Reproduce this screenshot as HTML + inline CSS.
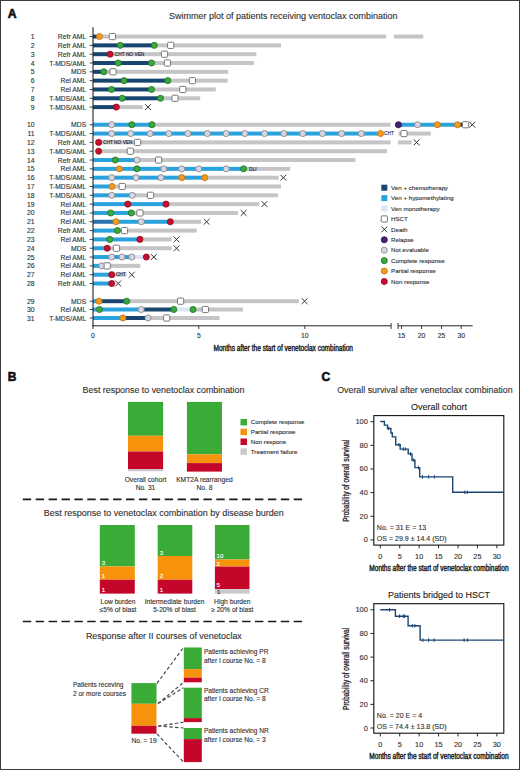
<!DOCTYPE html><html><head><meta charset="utf-8"><style>html,body{margin:0;padding:0;background:#fff;}svg{display:block;}text{font-family:"Liberation Sans",sans-serif;}</style></head><body>
<svg width="520" height="770" viewBox="0 0 520 770">
<rect x="0" y="0" width="520" height="770" fill="#fff"/>
<text x="7.7" y="18.4" font-size="12.2" font-weight="bold" fill="#111" stroke="#111" stroke-width="0.6">A</text>
<text x="7.8" y="381.3" font-size="12" font-weight="bold" fill="#111" stroke="#111" stroke-width="0.6">B</text>
<text x="321.6" y="381.3" font-size="12" font-weight="bold" fill="#111" stroke="#111" stroke-width="0.6">C</text>
<text x="169" y="18.6" font-size="9" fill="#313131" stroke="#313131" stroke-width="0.12">Swimmer plot of patients receiving ventoclax combination</text>
<text x="34.6" y="39.05" font-size="6.8" fill="#313131" text-anchor="end" stroke="#313131" stroke-width="0.12">1</text>
<text x="86.2" y="39.05" font-size="6.8" fill="#313131" text-anchor="end" stroke="#313131" stroke-width="0.12">Refr AML</text>
<line x1="89.6" y1="36.55" x2="93" y2="36.55" stroke="#333" stroke-width="0.9"/>
<rect x="93.00" y="34.55" width="6.50" height="4" fill="#17456f"/>
<rect x="99.50" y="34.55" width="286.70" height="4" fill="#c5c5c7"/>
<rect x="394.00" y="34.55" width="29.20" height="4" fill="#c5c5c7"/>
<text x="34.6" y="47.87" font-size="6.8" fill="#313131" text-anchor="end" stroke="#313131" stroke-width="0.12">2</text>
<text x="86.2" y="47.87" font-size="6.8" fill="#313131" text-anchor="end" stroke="#313131" stroke-width="0.12">Refr AML</text>
<line x1="89.6" y1="45.37" x2="93" y2="45.37" stroke="#333" stroke-width="0.9"/>
<rect x="93.00" y="43.37" width="61.30" height="4" fill="#17456f"/>
<rect x="154.30" y="43.37" width="126.70" height="4" fill="#c5c5c7"/>
<text x="34.6" y="56.69" font-size="6.8" fill="#313131" text-anchor="end" stroke="#313131" stroke-width="0.12">3</text>
<text x="86.2" y="56.69" font-size="6.8" fill="#313131" text-anchor="end" stroke="#313131" stroke-width="0.12">Refr AML</text>
<line x1="89.6" y1="54.19" x2="93" y2="54.19" stroke="#333" stroke-width="0.9"/>
<rect x="93.00" y="52.19" width="17.10" height="4" fill="#17456f"/>
<rect x="110.10" y="52.19" width="146.30" height="4" fill="#c5c5c7"/>
<text x="34.6" y="65.51" font-size="6.8" fill="#313131" text-anchor="end" stroke="#313131" stroke-width="0.12">4</text>
<text x="86.2" y="65.51" font-size="6.8" fill="#313131" text-anchor="end" stroke="#313131" stroke-width="0.12">T-MDS/AML</text>
<line x1="89.6" y1="63.01" x2="93" y2="63.01" stroke="#333" stroke-width="0.9"/>
<rect x="93.00" y="61.01" width="58.50" height="4" fill="#17456f"/>
<rect x="151.50" y="61.01" width="102.50" height="4" fill="#c5c5c7"/>
<text x="34.6" y="74.33" font-size="6.8" fill="#313131" text-anchor="end" stroke="#313131" stroke-width="0.12">5</text>
<text x="86.2" y="74.33" font-size="6.8" fill="#313131" text-anchor="end" stroke="#313131" stroke-width="0.12">MDS</text>
<line x1="89.6" y1="71.83" x2="93" y2="71.83" stroke="#333" stroke-width="0.9"/>
<rect x="93.00" y="69.83" width="10.80" height="4" fill="#17456f"/>
<rect x="103.80" y="69.83" width="124.40" height="4" fill="#c5c5c7"/>
<text x="34.6" y="83.15" font-size="6.8" fill="#313131" text-anchor="end" stroke="#313131" stroke-width="0.12">6</text>
<text x="86.2" y="83.15" font-size="6.8" fill="#313131" text-anchor="end" stroke="#313131" stroke-width="0.12">Rel AML</text>
<line x1="89.6" y1="80.65" x2="93" y2="80.65" stroke="#333" stroke-width="0.9"/>
<rect x="93.00" y="78.65" width="74.80" height="4" fill="#17456f"/>
<rect x="167.80" y="78.65" width="59.80" height="4" fill="#c5c5c7"/>
<text x="34.6" y="91.97" font-size="6.8" fill="#313131" text-anchor="end" stroke="#313131" stroke-width="0.12">7</text>
<text x="86.2" y="91.97" font-size="6.8" fill="#313131" text-anchor="end" stroke="#313131" stroke-width="0.12">Rel AML</text>
<line x1="89.6" y1="89.47" x2="93" y2="89.47" stroke="#333" stroke-width="0.9"/>
<rect x="93.00" y="87.47" width="58.50" height="4" fill="#17456f"/>
<rect x="151.50" y="87.47" width="64.30" height="4" fill="#c5c5c7"/>
<text x="34.6" y="100.79" font-size="6.8" fill="#313131" text-anchor="end" stroke="#313131" stroke-width="0.12">8</text>
<text x="86.2" y="100.79" font-size="6.8" fill="#313131" text-anchor="end" stroke="#313131" stroke-width="0.12">T-MDS/AML</text>
<line x1="89.6" y1="98.29" x2="93" y2="98.29" stroke="#333" stroke-width="0.9"/>
<rect x="93.00" y="96.29" width="67.50" height="4" fill="#17456f"/>
<rect x="160.50" y="96.29" width="39.70" height="4" fill="#c5c5c7"/>
<text x="34.6" y="109.61" font-size="6.8" fill="#313131" text-anchor="end" stroke="#313131" stroke-width="0.12">9</text>
<text x="86.2" y="109.61" font-size="6.8" fill="#313131" text-anchor="end" stroke="#313131" stroke-width="0.12">T-MDS/AML</text>
<line x1="89.6" y1="107.11" x2="93" y2="107.11" stroke="#333" stroke-width="0.9"/>
<rect x="93.00" y="105.11" width="23.30" height="4" fill="#17456f"/>
<rect x="116.30" y="105.11" width="26.50" height="4" fill="#c5c5c7"/>
<text x="34.6" y="127.25" font-size="6.8" fill="#313131" text-anchor="end" stroke="#313131" stroke-width="0.12">10</text>
<text x="86.2" y="127.25" font-size="6.8" fill="#313131" text-anchor="end" stroke="#313131" stroke-width="0.12">MDS</text>
<line x1="89.6" y1="124.75" x2="93" y2="124.75" stroke="#333" stroke-width="0.9"/>
<rect x="93.00" y="122.75" width="59.00" height="4" fill="#29a2dd"/>
<rect x="152.00" y="122.75" width="238.60" height="4" fill="#c5c5c7"/>
<rect x="398.40" y="122.75" width="59.10" height="4" fill="#29a2dd"/>
<rect x="457.50" y="122.75" width="5.50" height="4" fill="#17456f"/>
<text x="34.6" y="136.07" font-size="6.8" fill="#313131" text-anchor="end" stroke="#313131" stroke-width="0.12">11</text>
<text x="86.2" y="136.07" font-size="6.8" fill="#313131" text-anchor="end" stroke="#313131" stroke-width="0.12">T-MDS/AML</text>
<line x1="89.6" y1="133.57" x2="93" y2="133.57" stroke="#333" stroke-width="0.9"/>
<rect x="93.00" y="131.57" width="287.60" height="4" fill="#29a2dd"/>
<rect x="398.60" y="131.57" width="32.20" height="4" fill="#c5c5c7"/>
<text x="34.6" y="144.89" font-size="6.8" fill="#313131" text-anchor="end" stroke="#313131" stroke-width="0.12">12</text>
<text x="86.2" y="144.89" font-size="6.8" fill="#313131" text-anchor="end" stroke="#313131" stroke-width="0.12">Refr AML</text>
<line x1="89.6" y1="142.39" x2="93" y2="142.39" stroke="#333" stroke-width="0.9"/>
<rect x="98.60" y="140.39" width="292.00" height="4" fill="#c5c5c7"/>
<rect x="398.00" y="140.39" width="13.50" height="4" fill="#c5c5c7"/>
<text x="34.6" y="153.71" font-size="6.8" fill="#313131" text-anchor="end" stroke="#313131" stroke-width="0.12">13</text>
<text x="86.2" y="153.71" font-size="6.8" fill="#313131" text-anchor="end" stroke="#313131" stroke-width="0.12">T-MDS/AML</text>
<line x1="89.6" y1="151.21" x2="93" y2="151.21" stroke="#333" stroke-width="0.9"/>
<rect x="98.60" y="149.21" width="288.40" height="4" fill="#c5c5c7"/>
<text x="34.6" y="162.53" font-size="6.8" fill="#313131" text-anchor="end" stroke="#313131" stroke-width="0.12">14</text>
<text x="86.2" y="162.53" font-size="6.8" fill="#313131" text-anchor="end" stroke="#313131" stroke-width="0.12">Refr AML</text>
<line x1="89.6" y1="160.03" x2="93" y2="160.03" stroke="#333" stroke-width="0.9"/>
<rect x="93.00" y="158.03" width="44.00" height="4" fill="#29a2dd"/>
<rect x="137.00" y="158.03" width="218.40" height="4" fill="#c5c5c7"/>
<text x="34.6" y="171.35" font-size="6.8" fill="#313131" text-anchor="end" stroke="#313131" stroke-width="0.12">15</text>
<text x="86.2" y="171.35" font-size="6.8" fill="#313131" text-anchor="end" stroke="#313131" stroke-width="0.12">Rel AML</text>
<line x1="89.6" y1="168.85" x2="93" y2="168.85" stroke="#333" stroke-width="0.9"/>
<rect x="93.00" y="166.85" width="150.60" height="4" fill="#29a2dd"/>
<rect x="243.60" y="166.85" width="46.60" height="4" fill="#c5c5c7"/>
<text x="34.6" y="180.17" font-size="6.8" fill="#313131" text-anchor="end" stroke="#313131" stroke-width="0.12">16</text>
<text x="86.2" y="180.17" font-size="6.8" fill="#313131" text-anchor="end" stroke="#313131" stroke-width="0.12">T-MDS/AML</text>
<line x1="89.6" y1="177.67" x2="93" y2="177.67" stroke="#333" stroke-width="0.9"/>
<rect x="93.00" y="175.67" width="111.80" height="4" fill="#29a2dd"/>
<rect x="204.80" y="175.67" width="73.80" height="4" fill="#c5c5c7"/>
<text x="34.6" y="188.99" font-size="6.8" fill="#313131" text-anchor="end" stroke="#313131" stroke-width="0.12">17</text>
<text x="86.2" y="188.99" font-size="6.8" fill="#313131" text-anchor="end" stroke="#313131" stroke-width="0.12">T-MDS/AML</text>
<line x1="89.6" y1="186.49" x2="93" y2="186.49" stroke="#333" stroke-width="0.9"/>
<rect x="93.00" y="184.49" width="19.00" height="4" fill="#29a2dd"/>
<rect x="112.00" y="184.49" width="169.00" height="4" fill="#c5c5c7"/>
<text x="34.6" y="197.81" font-size="6.8" fill="#313131" text-anchor="end" stroke="#313131" stroke-width="0.12">18</text>
<text x="86.2" y="197.81" font-size="6.8" fill="#313131" text-anchor="end" stroke="#313131" stroke-width="0.12">T-MDS/AML</text>
<line x1="89.6" y1="195.31" x2="93" y2="195.31" stroke="#333" stroke-width="0.9"/>
<rect x="93.00" y="193.31" width="39.20" height="4" fill="#29a2dd"/>
<rect x="132.20" y="193.31" width="145.80" height="4" fill="#c5c5c7"/>
<text x="34.6" y="206.63" font-size="6.8" fill="#313131" text-anchor="end" stroke="#313131" stroke-width="0.12">19</text>
<text x="86.2" y="206.63" font-size="6.8" fill="#313131" text-anchor="end" stroke="#313131" stroke-width="0.12">Rel AML</text>
<line x1="89.6" y1="204.13" x2="93" y2="204.13" stroke="#333" stroke-width="0.9"/>
<rect x="93.00" y="202.13" width="73.00" height="4" fill="#29a2dd"/>
<rect x="166.00" y="202.13" width="93.30" height="4" fill="#c5c5c7"/>
<text x="34.6" y="215.45" font-size="6.8" fill="#313131" text-anchor="end" stroke="#313131" stroke-width="0.12">20</text>
<text x="86.2" y="215.45" font-size="6.8" fill="#313131" text-anchor="end" stroke="#313131" stroke-width="0.12">Rel AML</text>
<line x1="89.6" y1="212.95" x2="93" y2="212.95" stroke="#333" stroke-width="0.9"/>
<rect x="93.00" y="210.95" width="38.30" height="4" fill="#29a2dd"/>
<rect x="131.30" y="210.95" width="106.70" height="4" fill="#c5c5c7"/>
<text x="34.6" y="224.27" font-size="6.8" fill="#313131" text-anchor="end" stroke="#313131" stroke-width="0.12">21</text>
<text x="86.2" y="224.27" font-size="6.8" fill="#313131" text-anchor="end" stroke="#313131" stroke-width="0.12">Rel AML</text>
<line x1="89.6" y1="221.77" x2="93" y2="221.77" stroke="#333" stroke-width="0.9"/>
<rect x="93.00" y="219.77" width="22.90" height="4" fill="#2a73ad"/>
<rect x="115.90" y="219.77" width="54.40" height="4" fill="#29a2dd"/>
<rect x="170.30" y="219.77" width="30.70" height="4" fill="#c5c5c7"/>
<text x="34.6" y="233.09" font-size="6.8" fill="#313131" text-anchor="end" stroke="#313131" stroke-width="0.12">22</text>
<text x="86.2" y="233.09" font-size="6.8" fill="#313131" text-anchor="end" stroke="#313131" stroke-width="0.12">Refr AML</text>
<line x1="89.6" y1="230.59" x2="93" y2="230.59" stroke="#333" stroke-width="0.9"/>
<rect x="93.00" y="228.59" width="24.40" height="4" fill="#29a2dd"/>
<rect x="117.40" y="228.59" width="79.30" height="4" fill="#c5c5c7"/>
<text x="34.6" y="241.91" font-size="6.8" fill="#313131" text-anchor="end" stroke="#313131" stroke-width="0.12">23</text>
<text x="86.2" y="241.91" font-size="6.8" fill="#313131" text-anchor="end" stroke="#313131" stroke-width="0.12">Rel AML</text>
<line x1="89.6" y1="239.41" x2="93" y2="239.41" stroke="#333" stroke-width="0.9"/>
<rect x="93.00" y="237.41" width="46.90" height="4" fill="#29a2dd"/>
<rect x="139.90" y="237.41" width="31.80" height="4" fill="#c5c5c7"/>
<text x="34.6" y="250.73" font-size="6.8" fill="#313131" text-anchor="end" stroke="#313131" stroke-width="0.12">24</text>
<text x="86.2" y="250.73" font-size="6.8" fill="#313131" text-anchor="end" stroke="#313131" stroke-width="0.12">MDS</text>
<line x1="89.6" y1="248.23" x2="93" y2="248.23" stroke="#333" stroke-width="0.9"/>
<rect x="93.00" y="246.23" width="14.20" height="4" fill="#29a2dd"/>
<rect x="107.20" y="246.23" width="64.50" height="4" fill="#c5c5c7"/>
<text x="34.6" y="259.55" font-size="6.8" fill="#313131" text-anchor="end" stroke="#313131" stroke-width="0.12">25</text>
<text x="86.2" y="259.55" font-size="6.8" fill="#313131" text-anchor="end" stroke="#313131" stroke-width="0.12">Rel AML</text>
<line x1="89.6" y1="257.05" x2="93" y2="257.05" stroke="#333" stroke-width="0.9"/>
<rect x="93.00" y="255.05" width="38.80" height="4" fill="#29a2dd"/>
<rect x="131.80" y="255.05" width="14.50" height="4" fill="#dce5f7"/>
<text x="34.6" y="268.37" font-size="6.8" fill="#313131" text-anchor="end" stroke="#313131" stroke-width="0.12">26</text>
<text x="86.2" y="268.37" font-size="6.8" fill="#313131" text-anchor="end" stroke="#313131" stroke-width="0.12">Rel AML</text>
<line x1="89.6" y1="265.87" x2="93" y2="265.87" stroke="#333" stroke-width="0.9"/>
<rect x="93.00" y="263.87" width="8.80" height="4" fill="#29a2dd"/>
<rect x="101.80" y="263.87" width="38.50" height="4" fill="#c5c5c7"/>
<text x="34.6" y="277.19" font-size="6.8" fill="#313131" text-anchor="end" stroke="#313131" stroke-width="0.12">27</text>
<text x="86.2" y="277.19" font-size="6.8" fill="#313131" text-anchor="end" stroke="#313131" stroke-width="0.12">Rel AML</text>
<line x1="89.6" y1="274.69" x2="93" y2="274.69" stroke="#333" stroke-width="0.9"/>
<rect x="93.00" y="272.69" width="18.70" height="4" fill="#29a2dd"/>
<rect x="111.70" y="272.69" width="14.80" height="4" fill="#c5c5c7"/>
<text x="34.6" y="286.01" font-size="6.8" fill="#313131" text-anchor="end" stroke="#313131" stroke-width="0.12">28</text>
<text x="86.2" y="286.01" font-size="6.8" fill="#313131" text-anchor="end" stroke="#313131" stroke-width="0.12">Refr AML</text>
<line x1="89.6" y1="283.51" x2="93" y2="283.51" stroke="#333" stroke-width="0.9"/>
<rect x="93.00" y="281.51" width="18.70" height="4" fill="#29a2dd"/>
<text x="34.6" y="303.70" font-size="6.8" fill="#313131" text-anchor="end" stroke="#313131" stroke-width="0.12">29</text>
<text x="86.2" y="303.70" font-size="6.8" fill="#313131" text-anchor="end" stroke="#313131" stroke-width="0.12">MDS</text>
<line x1="89.6" y1="301.20" x2="93" y2="301.20" stroke="#333" stroke-width="0.9"/>
<rect x="93.00" y="299.20" width="6.00" height="4" fill="#29a2dd"/>
<rect x="99.00" y="299.20" width="27.70" height="4" fill="#17456f"/>
<rect x="126.70" y="299.20" width="172.10" height="4" fill="#c5c5c7"/>
<text x="34.6" y="312.00" font-size="6.8" fill="#313131" text-anchor="end" stroke="#313131" stroke-width="0.12">30</text>
<text x="86.2" y="312.00" font-size="6.8" fill="#313131" text-anchor="end" stroke="#313131" stroke-width="0.12">Rel AML</text>
<line x1="89.6" y1="309.50" x2="93" y2="309.50" stroke="#333" stroke-width="0.9"/>
<rect x="93.00" y="307.50" width="48.20" height="4" fill="#29a2dd"/>
<rect x="141.20" y="307.50" width="32.60" height="4" fill="#17456f"/>
<rect x="173.80" y="307.50" width="19.20" height="4" fill="#dce5f7"/>
<rect x="193.00" y="307.50" width="49.90" height="4" fill="#c5c5c7"/>
<text x="34.6" y="320.50" font-size="6.8" fill="#313131" text-anchor="end" stroke="#313131" stroke-width="0.12">31</text>
<text x="86.2" y="320.50" font-size="6.8" fill="#313131" text-anchor="end" stroke="#313131" stroke-width="0.12">T-MDS/AML</text>
<line x1="89.6" y1="318.00" x2="93" y2="318.00" stroke="#333" stroke-width="0.9"/>
<rect x="93.00" y="316.00" width="29.90" height="4" fill="#29a2dd"/>
<rect x="122.90" y="316.00" width="25.10" height="4" fill="#17456f"/>
<rect x="148.00" y="316.00" width="71.50" height="4" fill="#c5c5c7"/>
<text x="114.8" y="55.89" font-size="4.8" fill="#222244" stroke="#222244" stroke-width="0.12">CHT NO VEN</text>
<text x="103" y="144.09" font-size="4.8" fill="#222244" stroke="#222244" stroke-width="0.12">CHT NO VEN</text>
<text x="384" y="135.27" font-size="4.8" fill="#222244" stroke="#222244" stroke-width="0.12">CHT</text>
<text x="249" y="170.55" font-size="4.8" fill="#222244" stroke="#222244" stroke-width="0.12">DLI</text>
<text x="115.9" y="276.39" font-size="4.8" fill="#222244" stroke="#222244" stroke-width="0.12">CHT</text>
<circle cx="99.50" cy="36.55" r="3.05" fill="#f29b20" stroke="#c57412" stroke-width="0.85"/>
<rect x="109.30" y="33.45" width="6.2" height="6.2" rx="1" fill="#fff" stroke="#777" stroke-width="1"/>
<circle cx="120.30" cy="45.37" r="3.05" fill="#3aa93c" stroke="#1f762a" stroke-width="0.85"/>
<circle cx="154.30" cy="45.37" r="3.05" fill="#3aa93c" stroke="#1f762a" stroke-width="0.85"/>
<rect x="167.60" y="42.27" width="6.2" height="6.2" rx="1" fill="#fff" stroke="#777" stroke-width="1"/>
<circle cx="110.10" cy="54.19" r="3.05" fill="#c8102e" stroke="#8d0b20" stroke-width="0.85"/>
<rect x="161.40" y="51.09" width="6.2" height="6.2" rx="1" fill="#fff" stroke="#777" stroke-width="1"/>
<circle cx="118.20" cy="63.01" r="3.05" fill="#3aa93c" stroke="#1f762a" stroke-width="0.85"/>
<circle cx="151.50" cy="63.01" r="3.05" fill="#3aa93c" stroke="#1f762a" stroke-width="0.85"/>
<rect x="164.30" y="59.91" width="6.2" height="6.2" rx="1" fill="#fff" stroke="#777" stroke-width="1"/>
<circle cx="103.80" cy="71.83" r="3.05" fill="#3aa93c" stroke="#1f762a" stroke-width="0.85"/>
<rect x="109.90" y="68.73" width="6.2" height="6.2" rx="1" fill="#fff" stroke="#777" stroke-width="1"/>
<circle cx="124.00" cy="80.65" r="3.05" fill="#3aa93c" stroke="#1f762a" stroke-width="0.85"/>
<circle cx="167.80" cy="80.65" r="3.05" fill="#3aa93c" stroke="#1f762a" stroke-width="0.85"/>
<rect x="189.30" y="77.55" width="6.2" height="6.2" rx="1" fill="#fff" stroke="#777" stroke-width="1"/>
<circle cx="111.50" cy="89.47" r="3.05" fill="#3aa93c" stroke="#1f762a" stroke-width="0.85"/>
<circle cx="151.50" cy="89.47" r="3.05" fill="#3aa93c" stroke="#1f762a" stroke-width="0.85"/>
<rect x="179.70" y="86.37" width="6.2" height="6.2" rx="1" fill="#fff" stroke="#777" stroke-width="1"/>
<circle cx="122.20" cy="98.29" r="3.05" fill="#3aa93c" stroke="#1f762a" stroke-width="0.85"/>
<circle cx="160.50" cy="98.29" r="3.05" fill="#3aa93c" stroke="#1f762a" stroke-width="0.85"/>
<rect x="171.90" y="95.19" width="6.2" height="6.2" rx="1" fill="#fff" stroke="#777" stroke-width="1"/>
<circle cx="116.30" cy="107.11" r="3.05" fill="#c8102e" stroke="#8d0b20" stroke-width="0.85"/>
<path d="M145.10 104.21L150.90 110.01M150.90 104.21L145.10 110.01" stroke="#333" stroke-width="1" fill="none"/>
<circle cx="111.70" cy="124.75" r="3.05" fill="#d4d7e3" stroke="#8f8282" stroke-width="0.85"/>
<circle cx="131.80" cy="124.75" r="3.05" fill="#3aa93c" stroke="#1f762a" stroke-width="0.85"/>
<circle cx="152.00" cy="124.75" r="3.05" fill="#3aa93c" stroke="#1f762a" stroke-width="0.85"/>
<circle cx="398.40" cy="124.75" r="3.05" fill="#4b2070" stroke="#2e1245" stroke-width="0.85"/>
<circle cx="417.60" cy="124.75" r="3.05" fill="#d4d7e3" stroke="#8f8282" stroke-width="0.85"/>
<circle cx="437.40" cy="124.75" r="3.05" fill="#f29b20" stroke="#c57412" stroke-width="0.85"/>
<circle cx="457.50" cy="124.75" r="3.05" fill="#f29b20" stroke="#c57412" stroke-width="0.85"/>
<rect x="462.50" y="121.65" width="6.2" height="6.2" rx="1" fill="#fff" stroke="#777" stroke-width="1"/>
<path d="M469.40 121.85L475.20 127.65M475.20 121.85L469.40 127.65" stroke="#333" stroke-width="1" fill="none"/>
<circle cx="111.70" cy="133.57" r="3.05" fill="#d4d7e3" stroke="#8f8282" stroke-width="0.85"/>
<circle cx="130.70" cy="133.57" r="3.05" fill="#d4d7e3" stroke="#8f8282" stroke-width="0.85"/>
<circle cx="150.10" cy="133.57" r="3.05" fill="#d4d7e3" stroke="#8f8282" stroke-width="0.85"/>
<circle cx="168.80" cy="133.57" r="3.05" fill="#d4d7e3" stroke="#8f8282" stroke-width="0.85"/>
<circle cx="187.80" cy="133.57" r="3.05" fill="#d4d7e3" stroke="#8f8282" stroke-width="0.85"/>
<circle cx="207.40" cy="133.57" r="3.05" fill="#d4d7e3" stroke="#8f8282" stroke-width="0.85"/>
<circle cx="226.10" cy="133.57" r="3.05" fill="#d4d7e3" stroke="#8f8282" stroke-width="0.85"/>
<circle cx="244.90" cy="133.57" r="3.05" fill="#d4d7e3" stroke="#8f8282" stroke-width="0.85"/>
<circle cx="264.50" cy="133.57" r="3.05" fill="#d4d7e3" stroke="#8f8282" stroke-width="0.85"/>
<circle cx="283.80" cy="133.57" r="3.05" fill="#d4d7e3" stroke="#8f8282" stroke-width="0.85"/>
<circle cx="302.80" cy="133.57" r="3.05" fill="#d4d7e3" stroke="#8f8282" stroke-width="0.85"/>
<circle cx="322.40" cy="133.57" r="3.05" fill="#d4d7e3" stroke="#8f8282" stroke-width="0.85"/>
<circle cx="341.60" cy="133.57" r="3.05" fill="#d4d7e3" stroke="#8f8282" stroke-width="0.85"/>
<circle cx="361.30" cy="133.57" r="3.05" fill="#d4d7e3" stroke="#8f8282" stroke-width="0.85"/>
<circle cx="380.60" cy="133.57" r="3.05" fill="#f29b20" stroke="#c57412" stroke-width="0.85"/>
<rect x="400.90" y="130.47" width="6.2" height="6.2" rx="1" fill="#fff" stroke="#777" stroke-width="1"/>
<circle cx="98.60" cy="142.39" r="3.05" fill="#c8102e" stroke="#8d0b20" stroke-width="0.85"/>
<rect x="134.50" y="139.29" width="6.2" height="6.2" rx="1" fill="#fff" stroke="#777" stroke-width="1"/>
<path d="M413.70 139.49L419.50 145.29M419.50 139.49L413.70 145.29" stroke="#333" stroke-width="1" fill="none"/>
<circle cx="98.60" cy="151.21" r="3.05" fill="#c8102e" stroke="#8d0b20" stroke-width="0.85"/>
<rect x="127.20" y="148.11" width="6.2" height="6.2" rx="1" fill="#fff" stroke="#777" stroke-width="1"/>
<circle cx="115.30" cy="160.03" r="3.05" fill="#3aa93c" stroke="#1f762a" stroke-width="0.85"/>
<circle cx="137.00" cy="160.03" r="3.05" fill="#d4d7e3" stroke="#8f8282" stroke-width="0.85"/>
<rect x="155.50" y="156.93" width="6.2" height="6.2" rx="1" fill="#fff" stroke="#777" stroke-width="1"/>
<circle cx="119.30" cy="168.85" r="3.05" fill="#f29b20" stroke="#c57412" stroke-width="0.85"/>
<circle cx="137.00" cy="168.85" r="3.05" fill="#3aa93c" stroke="#1f762a" stroke-width="0.85"/>
<circle cx="163.80" cy="168.85" r="3.05" fill="#d4d7e3" stroke="#8f8282" stroke-width="0.85"/>
<circle cx="181.70" cy="168.85" r="3.05" fill="#d4d7e3" stroke="#8f8282" stroke-width="0.85"/>
<circle cx="198.70" cy="168.85" r="3.05" fill="#d4d7e3" stroke="#8f8282" stroke-width="0.85"/>
<circle cx="226.20" cy="168.85" r="3.05" fill="#d4d7e3" stroke="#8f8282" stroke-width="0.85"/>
<circle cx="243.60" cy="168.85" r="3.05" fill="#3aa93c" stroke="#1f762a" stroke-width="0.85"/>
<circle cx="111.70" cy="177.67" r="3.05" fill="#d4d7e3" stroke="#8f8282" stroke-width="0.85"/>
<circle cx="136.00" cy="177.67" r="3.05" fill="#d4d7e3" stroke="#8f8282" stroke-width="0.85"/>
<circle cx="161.00" cy="177.67" r="3.05" fill="#d4d7e3" stroke="#8f8282" stroke-width="0.85"/>
<circle cx="181.70" cy="177.67" r="3.05" fill="#f29b20" stroke="#c57412" stroke-width="0.85"/>
<circle cx="204.80" cy="177.67" r="3.05" fill="#f29b20" stroke="#c57412" stroke-width="0.85"/>
<path d="M280.40 174.77L286.20 180.57M286.20 174.77L280.40 180.57" stroke="#333" stroke-width="1" fill="none"/>
<circle cx="112.00" cy="186.49" r="3.05" fill="#f29b20" stroke="#c57412" stroke-width="0.85"/>
<rect x="119.10" y="183.39" width="6.2" height="6.2" rx="1" fill="#fff" stroke="#777" stroke-width="1"/>
<circle cx="111.70" cy="195.31" r="3.05" fill="#d4d7e3" stroke="#8f8282" stroke-width="0.85"/>
<circle cx="132.20" cy="195.31" r="3.05" fill="#d4d7e3" stroke="#8f8282" stroke-width="0.85"/>
<rect x="147.40" y="192.21" width="6.2" height="6.2" rx="1" fill="#fff" stroke="#777" stroke-width="1"/>
<circle cx="127.80" cy="204.13" r="3.05" fill="#c8102e" stroke="#8d0b20" stroke-width="0.85"/>
<circle cx="166.00" cy="204.13" r="3.05" fill="#c8102e" stroke="#8d0b20" stroke-width="0.85"/>
<path d="M261.50 201.23L267.30 207.03M267.30 201.23L261.50 207.03" stroke="#333" stroke-width="1" fill="none"/>
<circle cx="110.70" cy="212.95" r="3.05" fill="#3aa93c" stroke="#1f762a" stroke-width="0.85"/>
<circle cx="131.30" cy="212.95" r="3.05" fill="#3aa93c" stroke="#1f762a" stroke-width="0.85"/>
<rect x="136.80" y="209.85" width="6.2" height="6.2" rx="1" fill="#fff" stroke="#777" stroke-width="1"/>
<path d="M240.70 210.05L246.50 215.85M246.50 210.05L240.70 215.85" stroke="#333" stroke-width="1" fill="none"/>
<circle cx="115.90" cy="221.77" r="3.05" fill="#f29b20" stroke="#c57412" stroke-width="0.85"/>
<circle cx="141.30" cy="221.77" r="3.05" fill="#d4d7e3" stroke="#8f8282" stroke-width="0.85"/>
<circle cx="170.30" cy="221.77" r="3.05" fill="#c8102e" stroke="#8d0b20" stroke-width="0.85"/>
<path d="M203.70 218.87L209.50 224.67M209.50 218.87L203.70 224.67" stroke="#333" stroke-width="1" fill="none"/>
<circle cx="117.40" cy="230.59" r="3.05" fill="#3aa93c" stroke="#1f762a" stroke-width="0.85"/>
<rect x="121.40" y="227.49" width="6.2" height="6.2" rx="1" fill="#fff" stroke="#777" stroke-width="1"/>
<circle cx="109.70" cy="239.41" r="3.05" fill="#3aa93c" stroke="#1f762a" stroke-width="0.85"/>
<circle cx="139.90" cy="239.41" r="3.05" fill="#c8102e" stroke="#8d0b20" stroke-width="0.85"/>
<path d="M173.60 236.51L179.40 242.31M179.40 236.51L173.60 242.31" stroke="#333" stroke-width="1" fill="none"/>
<circle cx="107.20" cy="248.23" r="3.05" fill="#c8102e" stroke="#8d0b20" stroke-width="0.85"/>
<rect x="113.40" y="245.13" width="6.2" height="6.2" rx="1" fill="#fff" stroke="#777" stroke-width="1"/>
<path d="M173.60 245.33L179.40 251.13M179.40 245.33L173.60 251.13" stroke="#333" stroke-width="1" fill="none"/>
<circle cx="111.70" cy="257.05" r="3.05" fill="#d4d7e3" stroke="#8f8282" stroke-width="0.85"/>
<circle cx="122.00" cy="257.05" r="3.05" fill="#d4d7e3" stroke="#8f8282" stroke-width="0.85"/>
<circle cx="131.80" cy="257.05" r="3.05" fill="#d4d7e3" stroke="#8f8282" stroke-width="0.85"/>
<circle cx="146.30" cy="257.05" r="3.05" fill="#c8102e" stroke="#8d0b20" stroke-width="0.85"/>
<path d="M150.90 254.15L156.70 259.95M156.70 254.15L150.90 259.95" stroke="#333" stroke-width="1" fill="none"/>
<circle cx="101.80" cy="265.87" r="3.05" fill="#d4d7e3" stroke="#8f8282" stroke-width="0.85"/>
<rect x="104.10" y="262.77" width="6.2" height="6.2" rx="1" fill="#fff" stroke="#777" stroke-width="1"/>
<circle cx="111.70" cy="274.69" r="3.05" fill="#c8102e" stroke="#8d0b20" stroke-width="0.85"/>
<path d="M128.90 271.79L134.70 277.59M134.70 271.79L128.90 277.59" stroke="#333" stroke-width="1" fill="none"/>
<circle cx="111.70" cy="283.51" r="3.05" fill="#c8102e" stroke="#8d0b20" stroke-width="0.85"/>
<path d="M115.30 280.61L121.10 286.41M121.10 280.61L115.30 286.41" stroke="#333" stroke-width="1" fill="none"/>
<circle cx="99.00" cy="301.20" r="3.05" fill="#f29b20" stroke="#c57412" stroke-width="0.85"/>
<circle cx="126.70" cy="301.20" r="3.05" fill="#3aa93c" stroke="#1f762a" stroke-width="0.85"/>
<rect x="177.50" y="298.10" width="6.2" height="6.2" rx="1" fill="#fff" stroke="#777" stroke-width="1"/>
<path d="M301.70 298.30L307.50 304.10M307.50 298.30L301.70 304.10" stroke="#333" stroke-width="1" fill="none"/>
<circle cx="99.40" cy="309.50" r="3.05" fill="#3aa93c" stroke="#1f762a" stroke-width="0.85"/>
<circle cx="141.20" cy="309.50" r="3.05" fill="#d4d7e3" stroke="#8f8282" stroke-width="0.85"/>
<circle cx="173.80" cy="309.50" r="3.05" fill="#3aa93c" stroke="#1f762a" stroke-width="0.85"/>
<circle cx="193.00" cy="309.50" r="3.05" fill="#3aa93c" stroke="#1f762a" stroke-width="0.85"/>
<rect x="202.30" y="306.40" width="6.2" height="6.2" rx="1" fill="#fff" stroke="#777" stroke-width="1"/>
<circle cx="122.90" cy="318.00" r="3.05" fill="#f29b20" stroke="#c57412" stroke-width="0.85"/>
<circle cx="148.00" cy="318.00" r="3.05" fill="#d4d7e3" stroke="#8f8282" stroke-width="0.85"/>
<rect x="163.60" y="314.90" width="6.2" height="6.2" rx="1" fill="#fff" stroke="#777" stroke-width="1"/>
<line x1="93" y1="27.3" x2="93" y2="326.6" stroke="#222" stroke-width="1.1"/>
<line x1="92.5" y1="325.8" x2="391.1" y2="325.8" stroke="#222" stroke-width="1"/>
<line x1="398" y1="325.8" x2="472.7" y2="325.8" stroke="#222" stroke-width="1"/>
<line x1="391.1" y1="323" x2="391.1" y2="329" stroke="#222" stroke-width="0.9"/>
<line x1="398" y1="323" x2="398" y2="329" stroke="#222" stroke-width="0.9"/>
<line x1="93" y1="325.8" x2="93" y2="329" stroke="#222" stroke-width="0.9"/>
<text x="93" y="338.4" font-size="6.8" fill="#313131" text-anchor="middle" stroke="#313131" stroke-width="0.12">0</text>
<line x1="198.8" y1="325.8" x2="198.8" y2="329" stroke="#222" stroke-width="0.9"/>
<text x="198.8" y="338.4" font-size="6.8" fill="#313131" text-anchor="middle" stroke="#313131" stroke-width="0.12">5</text>
<line x1="304.8" y1="325.8" x2="304.8" y2="329" stroke="#222" stroke-width="0.9"/>
<text x="304.8" y="338.4" font-size="6.8" fill="#313131" text-anchor="middle" stroke="#313131" stroke-width="0.12">10</text>
<line x1="401.5" y1="325.8" x2="401.5" y2="329" stroke="#222" stroke-width="0.9"/>
<text x="401.5" y="338.4" font-size="6.8" fill="#313131" text-anchor="middle" stroke="#313131" stroke-width="0.12">15</text>
<line x1="421.6" y1="325.8" x2="421.6" y2="329" stroke="#222" stroke-width="0.9"/>
<text x="421.6" y="338.4" font-size="6.8" fill="#313131" text-anchor="middle" stroke="#313131" stroke-width="0.12">20</text>
<line x1="441.5" y1="325.8" x2="441.5" y2="329" stroke="#222" stroke-width="0.9"/>
<text x="441.5" y="338.4" font-size="6.8" fill="#313131" text-anchor="middle" stroke="#313131" stroke-width="0.12">25</text>
<line x1="461.2" y1="325.8" x2="461.2" y2="329" stroke="#222" stroke-width="0.9"/>
<text x="461.2" y="338.4" font-size="6.8" fill="#313131" text-anchor="middle" stroke="#313131" stroke-width="0.12">30</text>
<text x="213.5" y="351.3" font-size="8.8" fill="#222" stroke="#222" stroke-width="0.45" textLength="139.5" lengthAdjust="spacingAndGlyphs">Months after the start of venetoclax combination</text>
<rect x="381.3" y="184.70" width="6" height="6" fill="#17456f"/>
<text x="391" y="189.90" font-size="6.2" fill="#313131" stroke="#313131" stroke-width="0.12">Ven + chemotherapy</text>
<rect x="381.3" y="195.12" width="6" height="6" fill="#29a2dd"/>
<text x="391" y="200.32" font-size="6.2" fill="#313131" stroke="#313131" stroke-width="0.12">Ven + hypomethylating</text>
<rect x="381.3" y="205.54" width="6" height="6" fill="#dce5f7"/>
<text x="391" y="210.74" font-size="6.2" fill="#313131" stroke="#313131" stroke-width="0.12">Ven monotherapy</text>
<rect x="381.20" y="215.86" width="6.2" height="6.2" rx="1" fill="#fff" stroke="#777" stroke-width="1"/>
<text x="391" y="221.16" font-size="6.2" fill="#313131" stroke="#313131" stroke-width="0.12">HSCT</text>
<path d="M381.40 226.48L387.20 232.28M387.20 226.48L381.40 232.28" stroke="#333" stroke-width="1" fill="none"/>
<text x="391" y="231.58" font-size="6.2" fill="#313131" stroke="#313131" stroke-width="0.12">Death</text>
<circle cx="384.30" cy="239.80" r="3.05" fill="#4b2070" stroke="#2e1245" stroke-width="0.85"/>
<text x="391" y="242.00" font-size="6.2" fill="#313131" stroke="#313131" stroke-width="0.12">Relapse</text>
<circle cx="384.30" cy="250.22" r="3.05" fill="#d4d7e3" stroke="#8f8282" stroke-width="0.85"/>
<text x="391" y="252.42" font-size="6.2" fill="#313131" stroke="#313131" stroke-width="0.12">Not evaluable</text>
<circle cx="384.30" cy="260.64" r="3.05" fill="#3aa93c" stroke="#1f762a" stroke-width="0.85"/>
<text x="391" y="262.84" font-size="6.2" fill="#313131" stroke="#313131" stroke-width="0.12">Complete response</text>
<circle cx="384.30" cy="271.06" r="3.05" fill="#f29b20" stroke="#c57412" stroke-width="0.85"/>
<text x="391" y="273.26" font-size="6.2" fill="#313131" stroke="#313131" stroke-width="0.12">Partial response</text>
<circle cx="384.30" cy="281.48" r="3.05" fill="#c8102e" stroke="#8d0b20" stroke-width="0.85"/>
<text x="391" y="283.68" font-size="6.2" fill="#313131" stroke="#313131" stroke-width="0.12">Non response</text>
<text x="82.6" y="392.8" font-size="8.9" fill="#313131" stroke="#313131" stroke-width="0.12">Best response to venetoclax combination</text>
<rect x="128" y="401.9" width="35.1" height="33.90" fill="#3aab36"/>
<rect x="128" y="435.8" width="35.1" height="15.70" fill="#f7920c"/>
<rect x="128" y="451.5" width="35.1" height="17.80" fill="#c5062b"/>
<rect x="128" y="469.3" width="35.1" height="1.90" fill="#c9c9c9"/>
<rect x="186.9" y="401.9" width="35.1" height="52.40" fill="#3aab36"/>
<rect x="186.9" y="454.3" width="35.1" height="8.80" fill="#f7920c"/>
<rect x="186.9" y="463.1" width="35.1" height="8.50" fill="#c5062b"/>
<text x="145.5" y="481.6" font-size="6.7" fill="#313131" text-anchor="middle" stroke="#313131" stroke-width="0.12">Overall cohort</text>
<text x="145.5" y="490.2" font-size="6.7" fill="#313131" text-anchor="middle" stroke="#313131" stroke-width="0.12">No. 31</text>
<text x="204.4" y="481.6" font-size="6.7" fill="#313131" text-anchor="middle" stroke="#313131" stroke-width="0.12">KMT2A rearranged</text>
<text x="204.4" y="490.2" font-size="6.7" fill="#313131" text-anchor="middle" stroke="#313131" stroke-width="0.12">No. 8</text>
<rect x="240.5" y="418.90" width="6.5" height="6.5" fill="#3aab36"/>
<text x="250.8" y="424.30" font-size="6.2" fill="#313131" stroke="#313131" stroke-width="0.12">Complete response</text>
<rect x="240.5" y="428.70" width="6.5" height="6.5" fill="#f7920c"/>
<text x="250.8" y="434.10" font-size="6.2" fill="#313131" stroke="#313131" stroke-width="0.12">Partial response</text>
<rect x="240.5" y="438.50" width="6.5" height="6.5" fill="#c5062b"/>
<text x="250.8" y="443.90" font-size="6.2" fill="#313131" stroke="#313131" stroke-width="0.12">Non respone</text>
<rect x="240.5" y="448.30" width="6.5" height="6.5" fill="#c9c9c9"/>
<text x="250.8" y="453.70" font-size="6.2" fill="#313131" stroke="#313131" stroke-width="0.12">Treatment failure</text>
<line x1="22.8" y1="499.3" x2="303" y2="499.3" stroke="#1a1a1a" stroke-width="1.7" stroke-dasharray="8.4 4.5"/>
<line x1="22.8" y1="621.5" x2="303" y2="621.5" stroke="#1a1a1a" stroke-width="1.7" stroke-dasharray="8.4 4.5"/>
<text x="43.7" y="515.8" font-size="9" fill="#313131" stroke="#313131" stroke-width="0.12">Best response to venetoclax combination by disease burden</text>
<rect x="99.8" y="525" width="35" height="41.40" fill="#3aab36"/>
<rect x="99.8" y="566.4" width="35" height="13.40" fill="#f7920c"/>
<rect x="99.8" y="579.8" width="35" height="13.80" fill="#c5062b"/>
<rect x="157.7" y="525" width="34.6" height="31.00" fill="#3aab36"/>
<rect x="157.7" y="556" width="34.6" height="23.80" fill="#f7920c"/>
<rect x="157.7" y="579.8" width="34.6" height="13.80" fill="#c5062b"/>
<rect x="214.9" y="525" width="34.6" height="34.50" fill="#3aab36"/>
<rect x="214.9" y="559.5" width="34.6" height="7.10" fill="#f7920c"/>
<rect x="214.9" y="566.6" width="34.6" height="22.50" fill="#c5062b"/>
<rect x="214.9" y="589.1" width="34.6" height="4.50" fill="#c9c9c9"/>
<text x="101.8" y="564.70" font-size="6.1" fill="#fff" stroke="#fff" stroke-width="0.12">3</text>
<text x="101.8" y="578.40" font-size="6.1" fill="#fff" stroke="#fff" stroke-width="0.12">1</text>
<text x="101.8" y="591.60" font-size="6.1" fill="#fff" stroke="#fff" stroke-width="0.12">1</text>
<text x="159.7" y="554.60" font-size="6.1" fill="#fff" stroke="#fff" stroke-width="0.12">3</text>
<text x="159.7" y="578.40" font-size="6.1" fill="#fff" stroke="#fff" stroke-width="0.12">2</text>
<text x="159.7" y="591.60" font-size="6.1" fill="#fff" stroke="#fff" stroke-width="0.12">1</text>
<text x="216.5" y="557.60" font-size="6.1" fill="#fff" stroke="#fff" stroke-width="0.12">10</text>
<text x="216.5" y="566.20" font-size="6.1" fill="#fff" stroke="#fff" stroke-width="0.12">2</text>
<text x="216.5" y="586.60" font-size="6.1" fill="#fff" stroke="#fff" stroke-width="0.12">5</text>
<text x="216.9" y="593.80" font-size="6.1" fill="#333" stroke="#333" stroke-width="0.12">1</text>
<text x="118" y="603.6" font-size="6.7" fill="#313131" text-anchor="middle" stroke="#313131" stroke-width="0.12">Low burden</text>
<text x="118" y="612" font-size="6.7" fill="#313131" text-anchor="middle" stroke="#313131" stroke-width="0.12">≤5% of blast</text>
<text x="174.6" y="603.6" font-size="6.7" fill="#313131" text-anchor="middle" stroke="#313131" stroke-width="0.12">Intermediate burden</text>
<text x="174.6" y="612" font-size="6.7" fill="#313131" text-anchor="middle" stroke="#313131" stroke-width="0.12">5-20% of blast</text>
<text x="232.3" y="603.6" font-size="6.7" fill="#313131" text-anchor="middle" stroke="#313131" stroke-width="0.12">High burden</text>
<text x="232.3" y="612" font-size="6.7" fill="#313131" text-anchor="middle" stroke="#313131" stroke-width="0.12">≥ 20% of blast</text>
<text x="85.9" y="639" font-size="8.9" fill="#313131" stroke="#313131" stroke-width="0.12">Response after II courses of venetoclax</text>
<rect x="131.4" y="683.1" width="25.1" height="20.70" fill="#3aab36"/>
<rect x="131.4" y="703.8" width="25.1" height="22.00" fill="#f7920c"/>
<rect x="131.4" y="725.8" width="25.1" height="7.90" fill="#c5062b"/>
<text x="72.9" y="687.3" font-size="6.6" fill="#313131" stroke="#313131" stroke-width="0.12">Patients receving</text>
<text x="72.9" y="695.6" font-size="6.6" fill="#313131" stroke="#313131" stroke-width="0.12">2 or more courses</text>
<text x="144" y="743" font-size="6.6" fill="#313131" text-anchor="middle" stroke="#313131" stroke-width="0.12">No. = 19</text>
<rect x="183.8" y="647.5" width="18" height="21.60" fill="#3aab36"/>
<rect x="183.8" y="669.1" width="18" height="8.60" fill="#f7920c"/>
<rect x="183.8" y="677.7" width="18" height="4.60" fill="#c5062b"/>
<rect x="183.8" y="687.7" width="18" height="30.40" fill="#3aab36"/>
<rect x="183.8" y="718.1" width="18" height="4.00" fill="#c5062b"/>
<rect x="183.8" y="728" width="18" height="11.10" fill="#3aab36"/>
<rect x="183.8" y="739.1" width="18" height="23.00" fill="#c5062b"/>
<text x="203.9" y="654.4" font-size="6.6" fill="#313131" stroke="#313131" stroke-width="0.12">Patients achieving PR</text>
<text x="203.9" y="662.9" font-size="6.6" fill="#313131" stroke="#313131" stroke-width="0.12">after I course No. = 8</text>
<text x="203.9" y="692.9" font-size="6.6" fill="#313131" stroke="#313131" stroke-width="0.12">Patients achieving CR</text>
<text x="203.9" y="701.4" font-size="6.6" fill="#313131" stroke="#313131" stroke-width="0.12">after I course No. = 8</text>
<text x="203.9" y="733.3" font-size="6.6" fill="#313131" stroke="#313131" stroke-width="0.12">Patients achieving NR</text>
<text x="203.9" y="741.8" font-size="6.6" fill="#313131" stroke="#313131" stroke-width="0.12">after I course No. = 3</text>
<line x1="157" y1="683.3" x2="183.5" y2="647.5" stroke="#444" stroke-width="1.15" stroke-dasharray="3.4 2.3" fill="none"/>
<line x1="158" y1="703.6" x2="183.5" y2="682.5" stroke="#444" stroke-width="1.15" stroke-dasharray="3.4 2.3" fill="none"/>
<line x1="158" y1="703.6" x2="183.5" y2="687.8" stroke="#444" stroke-width="1.15" stroke-dasharray="3.4 2.3" fill="none"/>
<line x1="158" y1="726" x2="183.5" y2="722.2" stroke="#444" stroke-width="1.15" stroke-dasharray="3.4 2.3" fill="none"/>
<line x1="158" y1="726" x2="183.5" y2="728" stroke="#444" stroke-width="1.15" stroke-dasharray="3.4 2.3" fill="none"/>
<line x1="157" y1="734" x2="183.5" y2="762" stroke="#444" stroke-width="1.15" stroke-dasharray="3.4 2.3" fill="none"/>
<text x="337.2" y="392.7" font-size="8.85" fill="#313131" stroke="#313131" stroke-width="0.12">Overall survival after venetoclax combination</text>
<text x="439" y="410.00" font-size="9" fill="#222" text-anchor="middle" stroke="#222" stroke-width="0.12">Overall cohort</text>
<rect x="373.8" y="415.6" width="130" height="129.5" fill="none" stroke="#111" stroke-width="1.1"/>
<line x1="370.4" y1="539.90" x2="373.8" y2="539.90" stroke="#111" stroke-width="0.9"/>
<text x="367.8" y="542.40" font-size="7.4" fill="#313131" text-anchor="end" stroke="#313131" stroke-width="0.12">0</text>
<line x1="370.4" y1="516.26" x2="373.8" y2="516.26" stroke="#111" stroke-width="0.9"/>
<text x="367.8" y="518.76" font-size="7.4" fill="#313131" text-anchor="end" stroke="#313131" stroke-width="0.12">20</text>
<line x1="370.4" y1="492.62" x2="373.8" y2="492.62" stroke="#111" stroke-width="0.9"/>
<text x="367.8" y="495.12" font-size="7.4" fill="#313131" text-anchor="end" stroke="#313131" stroke-width="0.12">40</text>
<line x1="370.4" y1="468.98" x2="373.8" y2="468.98" stroke="#111" stroke-width="0.9"/>
<text x="367.8" y="471.48" font-size="7.4" fill="#313131" text-anchor="end" stroke="#313131" stroke-width="0.12">60</text>
<line x1="370.4" y1="445.34" x2="373.8" y2="445.34" stroke="#111" stroke-width="0.9"/>
<text x="367.8" y="447.84" font-size="7.4" fill="#313131" text-anchor="end" stroke="#313131" stroke-width="0.12">80</text>
<line x1="370.4" y1="421.70" x2="373.8" y2="421.70" stroke="#111" stroke-width="0.9"/>
<text x="367.8" y="424.20" font-size="7.4" fill="#313131" text-anchor="end" stroke="#313131" stroke-width="0.12">100</text>
<line x1="380.30" y1="545.1" x2="380.30" y2="548.30" stroke="#111" stroke-width="0.9"/>
<text x="380.30" y="558.50" font-size="7.3" fill="#313131" text-anchor="middle" stroke="#313131" stroke-width="0.12">0</text>
<line x1="399.73" y1="545.1" x2="399.73" y2="548.30" stroke="#111" stroke-width="0.9"/>
<text x="399.73" y="558.50" font-size="7.3" fill="#313131" text-anchor="middle" stroke="#313131" stroke-width="0.12">5</text>
<line x1="419.15" y1="545.1" x2="419.15" y2="548.30" stroke="#111" stroke-width="0.9"/>
<text x="419.15" y="558.50" font-size="7.3" fill="#313131" text-anchor="middle" stroke="#313131" stroke-width="0.12">10</text>
<line x1="438.57" y1="545.1" x2="438.57" y2="548.30" stroke="#111" stroke-width="0.9"/>
<text x="438.57" y="558.50" font-size="7.3" fill="#313131" text-anchor="middle" stroke="#313131" stroke-width="0.12">15</text>
<line x1="458.00" y1="545.1" x2="458.00" y2="548.30" stroke="#111" stroke-width="0.9"/>
<text x="458.00" y="558.50" font-size="7.3" fill="#313131" text-anchor="middle" stroke="#313131" stroke-width="0.12">20</text>
<line x1="477.43" y1="545.1" x2="477.43" y2="548.30" stroke="#111" stroke-width="0.9"/>
<text x="477.43" y="558.50" font-size="7.3" fill="#313131" text-anchor="middle" stroke="#313131" stroke-width="0.12">25</text>
<line x1="496.85" y1="545.1" x2="496.85" y2="548.30" stroke="#111" stroke-width="0.9"/>
<text x="496.85" y="558.50" font-size="7.3" fill="#313131" text-anchor="middle" stroke="#313131" stroke-width="0.12">30</text>
<text x="369.3" y="570.90" font-size="8.8" fill="#222" stroke="#222" stroke-width="0.45" textLength="139.3" lengthAdjust="spacingAndGlyphs">Months after the start of venetoclax combination</text>
<text transform="translate(349.1 480.80) rotate(-90)" x="0" y="0" font-size="9" fill="#222" stroke="#222" stroke-width="0.3" text-anchor="middle" textLength="82" lengthAdjust="spacingAndGlyphs">Probability of overall survival</text>
<path d="M380.30 421.50 L384.40 421.50 L384.40 425.10 L387.50 425.10 L387.50 428.50 L390.90 428.50 L390.90 433.00 L392.30 433.00 L392.30 436.90 L395.70 436.90 L395.70 444.80 L400.20 444.80 L400.20 449.10 L408.20 449.10 L408.20 453.90 L412.00 453.90 L412.00 460.20 L414.90 460.20 L414.90 467.60 L419.70 467.60 L419.70 476.90 L452.70 476.90 L452.70 492.30 L503.80 492.30" fill="none" stroke="#1b4672" stroke-width="1.4"/>
<line x1="388.60" y1="426.70" x2="388.60" y2="430.30" stroke="#1b4672" stroke-width="1"/>
<line x1="399.00" y1="443.00" x2="399.00" y2="446.60" stroke="#1b4672" stroke-width="1"/>
<line x1="403.30" y1="447.30" x2="403.30" y2="450.90" stroke="#1b4672" stroke-width="1"/>
<line x1="405.30" y1="447.30" x2="405.30" y2="450.90" stroke="#1b4672" stroke-width="1"/>
<line x1="410.50" y1="452.10" x2="410.50" y2="455.70" stroke="#1b4672" stroke-width="1"/>
<line x1="413.80" y1="458.40" x2="413.80" y2="462.00" stroke="#1b4672" stroke-width="1"/>
<line x1="418.50" y1="465.80" x2="418.50" y2="469.40" stroke="#1b4672" stroke-width="1"/>
<line x1="422.50" y1="475.10" x2="422.50" y2="478.70" stroke="#1b4672" stroke-width="1"/>
<line x1="428.70" y1="475.10" x2="428.70" y2="478.70" stroke="#1b4672" stroke-width="1"/>
<line x1="434.40" y1="475.10" x2="434.40" y2="478.70" stroke="#1b4672" stroke-width="1"/>
<line x1="464.80" y1="490.50" x2="464.80" y2="494.10" stroke="#1b4672" stroke-width="1"/>
<line x1="467.30" y1="490.50" x2="467.30" y2="494.10" stroke="#1b4672" stroke-width="1"/>
<text x="376.8" y="529.50" font-size="7.05" fill="#313131" stroke="#313131" stroke-width="0.12">No. = 31 E = 13</text>
<text x="376.8" y="541.10" font-size="7.05" fill="#313131" stroke="#313131" stroke-width="0.12">OS = 29.9 ± 14.4 (SD)</text>
<text x="439" y="598.10" font-size="9" fill="#222" text-anchor="middle" stroke="#222" stroke-width="0.12">Patients bridged to HSCT</text>
<rect x="373.8" y="603.7" width="130" height="129.5" fill="none" stroke="#111" stroke-width="1.1"/>
<line x1="370.4" y1="728.00" x2="373.8" y2="728.00" stroke="#111" stroke-width="0.9"/>
<text x="367.8" y="730.50" font-size="7.4" fill="#313131" text-anchor="end" stroke="#313131" stroke-width="0.12">0</text>
<line x1="370.4" y1="704.36" x2="373.8" y2="704.36" stroke="#111" stroke-width="0.9"/>
<text x="367.8" y="706.86" font-size="7.4" fill="#313131" text-anchor="end" stroke="#313131" stroke-width="0.12">20</text>
<line x1="370.4" y1="680.72" x2="373.8" y2="680.72" stroke="#111" stroke-width="0.9"/>
<text x="367.8" y="683.22" font-size="7.4" fill="#313131" text-anchor="end" stroke="#313131" stroke-width="0.12">40</text>
<line x1="370.4" y1="657.08" x2="373.8" y2="657.08" stroke="#111" stroke-width="0.9"/>
<text x="367.8" y="659.58" font-size="7.4" fill="#313131" text-anchor="end" stroke="#313131" stroke-width="0.12">60</text>
<line x1="370.4" y1="633.44" x2="373.8" y2="633.44" stroke="#111" stroke-width="0.9"/>
<text x="367.8" y="635.94" font-size="7.4" fill="#313131" text-anchor="end" stroke="#313131" stroke-width="0.12">80</text>
<line x1="370.4" y1="609.80" x2="373.8" y2="609.80" stroke="#111" stroke-width="0.9"/>
<text x="367.8" y="612.30" font-size="7.4" fill="#313131" text-anchor="end" stroke="#313131" stroke-width="0.12">100</text>
<line x1="380.30" y1="733.2" x2="380.30" y2="736.40" stroke="#111" stroke-width="0.9"/>
<text x="380.30" y="746.60" font-size="7.3" fill="#313131" text-anchor="middle" stroke="#313131" stroke-width="0.12">0</text>
<line x1="399.73" y1="733.2" x2="399.73" y2="736.40" stroke="#111" stroke-width="0.9"/>
<text x="399.73" y="746.60" font-size="7.3" fill="#313131" text-anchor="middle" stroke="#313131" stroke-width="0.12">5</text>
<line x1="419.15" y1="733.2" x2="419.15" y2="736.40" stroke="#111" stroke-width="0.9"/>
<text x="419.15" y="746.60" font-size="7.3" fill="#313131" text-anchor="middle" stroke="#313131" stroke-width="0.12">10</text>
<line x1="438.57" y1="733.2" x2="438.57" y2="736.40" stroke="#111" stroke-width="0.9"/>
<text x="438.57" y="746.60" font-size="7.3" fill="#313131" text-anchor="middle" stroke="#313131" stroke-width="0.12">15</text>
<line x1="458.00" y1="733.2" x2="458.00" y2="736.40" stroke="#111" stroke-width="0.9"/>
<text x="458.00" y="746.60" font-size="7.3" fill="#313131" text-anchor="middle" stroke="#313131" stroke-width="0.12">20</text>
<line x1="477.43" y1="733.2" x2="477.43" y2="736.40" stroke="#111" stroke-width="0.9"/>
<text x="477.43" y="746.60" font-size="7.3" fill="#313131" text-anchor="middle" stroke="#313131" stroke-width="0.12">25</text>
<line x1="496.85" y1="733.2" x2="496.85" y2="736.40" stroke="#111" stroke-width="0.9"/>
<text x="496.85" y="746.60" font-size="7.3" fill="#313131" text-anchor="middle" stroke="#313131" stroke-width="0.12">30</text>
<text x="369.3" y="759.00" font-size="8.8" fill="#222" stroke="#222" stroke-width="0.45" textLength="139.3" lengthAdjust="spacingAndGlyphs">Months after the start of venetoclax combination</text>
<text transform="translate(349.1 668.90) rotate(-90)" x="0" y="0" font-size="9" fill="#222" stroke="#222" stroke-width="0.3" text-anchor="middle" textLength="82" lengthAdjust="spacingAndGlyphs">Probability of overall survival</text>
<path d="M380.30 609.80 L395.40 609.80 L395.40 616.20 L408.10 616.20 L408.10 625.70 L420.10 625.70 L420.10 640.10 L503.80 640.10" fill="none" stroke="#1b4672" stroke-width="1.4"/>
<line x1="389.50" y1="608.00" x2="389.50" y2="611.60" stroke="#1b4672" stroke-width="1"/>
<line x1="399.60" y1="614.40" x2="399.60" y2="618.00" stroke="#1b4672" stroke-width="1"/>
<line x1="403.20" y1="614.40" x2="403.20" y2="618.00" stroke="#1b4672" stroke-width="1"/>
<line x1="404.60" y1="614.40" x2="404.60" y2="618.00" stroke="#1b4672" stroke-width="1"/>
<line x1="412.30" y1="623.90" x2="412.30" y2="627.50" stroke="#1b4672" stroke-width="1"/>
<line x1="414.80" y1="623.90" x2="414.80" y2="627.50" stroke="#1b4672" stroke-width="1"/>
<line x1="422.90" y1="638.30" x2="422.90" y2="641.90" stroke="#1b4672" stroke-width="1"/>
<line x1="428.60" y1="638.30" x2="428.60" y2="641.90" stroke="#1b4672" stroke-width="1"/>
<line x1="434.10" y1="638.30" x2="434.10" y2="641.90" stroke="#1b4672" stroke-width="1"/>
<line x1="464.10" y1="638.30" x2="464.10" y2="641.90" stroke="#1b4672" stroke-width="1"/>
<line x1="467.70" y1="638.30" x2="467.70" y2="641.90" stroke="#1b4672" stroke-width="1"/>
<text x="376.8" y="717.60" font-size="7.05" fill="#313131" stroke="#313131" stroke-width="0.12">No. = 20 E = 4</text>
<text x="376.8" y="729.20" font-size="7.05" fill="#313131" stroke="#313131" stroke-width="0.12">OS = 74.4 ± 13.8 (SD)</text>
<rect x="0.5" y="0.5" width="519" height="769" fill="none" stroke="#3c3c3c" stroke-width="1"/>
</svg></body></html>
